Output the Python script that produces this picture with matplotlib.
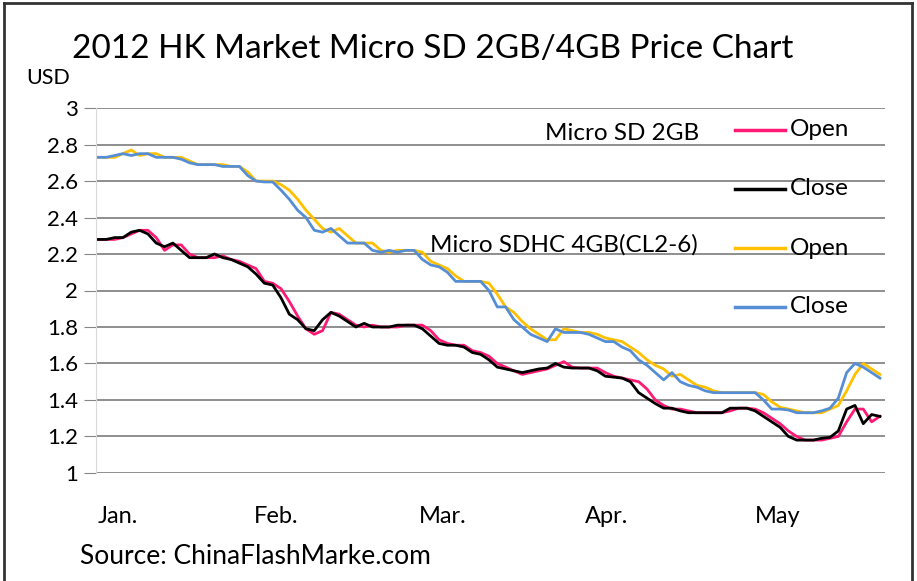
import matplotlib.pyplot as plt
from matplotlib.lines import Line2D

plt.rcParams['font.family'] = ['Lato', 'DejaVu Sans']

# daily quotes, Jan - mid May 2012 (USD)
sd2_open = [2.28, 2.28, 2.28, 2.29, 2.31, 2.33, 2.33, 2.29, 2.22, 2.25,
            2.25, 2.20, 2.18, 2.18, 2.18, 2.19, 2.17, 2.16, 2.14, 2.12,
            2.05, 2.04, 2.01, 1.94, 1.86, 1.79, 1.76, 1.78, 1.88, 1.87,
            1.84, 1.81, 1.80, 1.81, 1.80, 1.80, 1.80, 1.81, 1.81, 1.81,
            1.78, 1.73, 1.71, 1.70, 1.70, 1.67, 1.66, 1.64, 1.60, 1.58,
            1.56, 1.54, 1.55, 1.56, 1.57, 1.59, 1.61, 1.58, 1.575, 1.575,
            1.575, 1.55, 1.53, 1.52, 1.51, 1.50, 1.46, 1.40, 1.37, 1.35,
            1.35, 1.34, 1.33, 1.33, 1.33, 1.33, 1.34, 1.355, 1.355, 1.35,
            1.33, 1.30, 1.27, 1.23, 1.20, 1.18, 1.18, 1.18, 1.19, 1.20,
            1.28, 1.35, 1.35, 1.28, 1.31]
sd2_close = [2.28, 2.28, 2.29, 2.29, 2.32, 2.33, 2.31, 2.26, 2.24, 2.26,
             2.22, 2.18, 2.18, 2.18, 2.20, 2.18, 2.17, 2.15, 2.13, 2.09,
             2.04, 2.03, 1.96, 1.87, 1.84, 1.79, 1.78, 1.84, 1.88, 1.86,
             1.83, 1.80, 1.82, 1.80, 1.80, 1.80, 1.81, 1.81, 1.81, 1.79,
             1.75, 1.71, 1.70, 1.70, 1.69, 1.66, 1.65, 1.62, 1.58, 1.57,
             1.56, 1.55, 1.56, 1.57, 1.575, 1.60, 1.58, 1.575, 1.575, 1.575,
             1.56, 1.53, 1.525, 1.52, 1.50, 1.44, 1.41, 1.38, 1.355, 1.355,
             1.34, 1.33, 1.33, 1.33, 1.33, 1.33, 1.355, 1.355, 1.355, 1.34,
             1.31, 1.28, 1.25, 1.20, 1.18, 1.18, 1.18, 1.19, 1.195, 1.23,
             1.35, 1.37, 1.27, 1.32, 1.31]
sd4_open = [2.73, 2.73, 2.73, 2.75, 2.77, 2.74, 2.75, 2.75, 2.73, 2.73,
            2.73, 2.71, 2.69, 2.69, 2.69, 2.69, 2.68, 2.68, 2.65, 2.60,
            2.60, 2.60, 2.58, 2.55, 2.50, 2.44, 2.39, 2.34, 2.32, 2.34,
            2.30, 2.26, 2.26, 2.26, 2.22, 2.21, 2.22, 2.22, 2.22, 2.21,
            2.16, 2.14, 2.12, 2.08, 2.05, 2.05, 2.05, 2.04, 1.98, 1.91,
            1.88, 1.83, 1.79, 1.76, 1.73, 1.73, 1.79, 1.78, 1.77, 1.77,
            1.76, 1.74, 1.73, 1.72, 1.69, 1.66, 1.62, 1.59, 1.57, 1.53,
            1.54, 1.51, 1.48, 1.47, 1.45, 1.44, 1.44, 1.44, 1.44, 1.44,
            1.43, 1.39, 1.36, 1.35, 1.34, 1.33, 1.33, 1.33, 1.35, 1.37,
            1.45, 1.54, 1.60, 1.57, 1.54]
sd4_close = [2.73, 2.73, 2.74, 2.75, 2.74, 2.75, 2.75, 2.73, 2.73, 2.73,
             2.72, 2.70, 2.69, 2.69, 2.69, 2.68, 2.68, 2.68, 2.63, 2.60,
             2.595, 2.595, 2.55, 2.50, 2.44, 2.40, 2.33, 2.32, 2.34, 2.30,
             2.26, 2.26, 2.26, 2.22, 2.21, 2.22, 2.21, 2.22, 2.22, 2.17,
             2.14, 2.13, 2.10, 2.05, 2.05, 2.05, 2.05, 2.00, 1.91, 1.91,
             1.84, 1.80, 1.76, 1.74, 1.72, 1.79, 1.77, 1.77, 1.77, 1.76,
             1.74, 1.72, 1.72, 1.69, 1.67, 1.62, 1.59, 1.55, 1.51, 1.55,
             1.50, 1.48, 1.47, 1.45, 1.44, 1.44, 1.44, 1.44, 1.44, 1.44,
             1.40, 1.35, 1.35, 1.345, 1.33, 1.33, 1.33, 1.34, 1.355, 1.41,
             1.55, 1.60, 1.58, 1.55, 1.52]

months = ['Jan.', 'Feb.', 'Mar.', 'Apr.', 'May']
month_pos = [2.4, 21.4, 41.4, 61.1, 81.7]
yticks = [1, 1.2, 1.4, 1.6, 1.8, 2, 2.2, 2.4, 2.6, 2.8, 3]

days = list(range(len(sd2_open)))

fig = plt.figure(figsize=(9.17, 5.81), dpi=100)
ax = fig.add_axes([0.1047, 0.186, 0.8603, 0.628])

ax.plot(days, sd4_open, color='#FFC000', lw=2.0)
ax.plot(days, sd4_close, color='#558ED5', lw=2.0)
ax.plot(days, sd2_open, color='#FF1A75', lw=2.0)
ax.plot(days, sd2_close, color='black', lw=2.0)

ax.set_ylim(1, 3)
ax.set_xlim(-0.24, 94.6)
ax.set_yticks(yticks)
ax.set_yticklabels(['%g' % v for v in yticks], fontsize=16)
ax.set_xticks(month_pos)
ax.set_xticklabels(months, fontsize=17)
ax.tick_params(axis='x', length=0, pad=24)
ax.tick_params(axis='y', length=9, color='#868686', pad=4)
ax.yaxis.grid(True, color='#868686', lw=1.3)
ax.set_axisbelow(True)
for s in ['top', 'right', 'bottom']:
    ax.spines[s].set_visible(False)
ax.spines['left'].set_color('#d9d9d9')

fig.text(0.472, 0.915, '2012 HK Market Micro SD 2GB/4GB Price Chart',
         ha='center', va='center', fontsize=24)
fig.text(0.029, 0.866, 'USD', ha='left', va='center', fontsize=15.5)
fig.text(0.087, 0.043, 'Source: ChinaFlashMarke.com', ha='left',
         va='center', fontsize=19)

# legend drawn as labels + short line samples
fig.text(0.594, 0.771, 'Micro SD 2GB', ha='left', va='center', fontsize=17.5)
fig.text(0.469, 0.579, 'Micro SDHC 4GB(CL2-6)', ha='left', va='center',
         fontsize=17.5)
leg = [('#FF1A75', 'Open', 0.777), ('black', 'Close', 0.675),
       ('#FFC000', 'Open', 0.573), ('#558ED5', 'Close', 0.472)]
for c, lab, yy in leg:
    fig.add_artist(Line2D([0.801, 0.856], [yy, yy], color=c, lw=2.5))
    fig.text(0.861, yy, lab, ha='left', va='center', fontsize=17.5)

# outer frame
for xs, ys in [([0.004, 0.004], [0.0, 0.995]), ([0.004, 0.995], [0.995, 0.995]),
               ([0.995, 0.995], [0.0, 0.995])]:
    fig.add_artist(Line2D(xs, ys, color='#333333', lw=2))

fig.savefig('out.png', dpi=100)
